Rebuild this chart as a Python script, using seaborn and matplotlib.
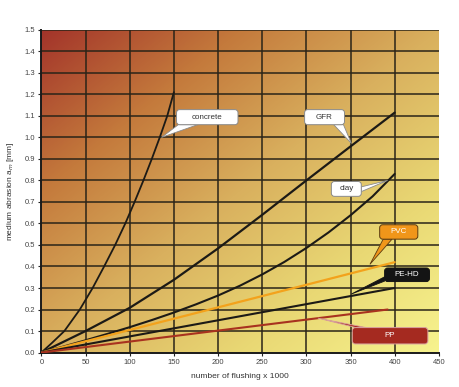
import numpy as np
import pandas as pd
import matplotlib
matplotlib.use("Agg")
import matplotlib.pyplot as plt
import seaborn as sns
from matplotlib.colors import LinearSegmentedColormap
from matplotlib.patches import FancyBboxPatch, Polygon

# data
concrete_x = [0, 12, 26, 43.5, 58, 71, 83.5, 95, 105.5, 115.5, 125, 134, 142.5, 150]
concrete_y = [0, 0.045, 0.1, 0.2, 0.3, 0.4, 0.5, 0.6, 0.7, 0.8, 0.9, 1.0, 1.1, 1.21]
gfr_x = [0, 50, 100, 150, 200, 250, 300, 350, 400]
gfr_y = [0, 0.10, 0.208, 0.338, 0.484, 0.640, 0.80, 0.958, 1.115]
clay_x = [0, 25, 50, 75, 100, 125, 150, 175, 200, 225, 250, 275, 300, 325, 350, 375, 400]
clay_y = [0, 0.028, 0.057, 0.087, 0.118, 0.151, 0.186, 0.224, 0.265, 0.311, 0.363,
          0.421, 0.486, 0.558, 0.638, 0.726, 0.83]
pvc_x = [0, 400]
pvc_y = [0, 0.42]
pehd_x = [0, 400]
pehd_y = [0, 0.30]
pp_x = [0, 392]
pp_y = [0, 0.20]

xticks = np.arange(0, 451, 50)
yticks = np.round(np.arange(0, 1.51, 0.1), 1)

sns.set_theme(style="white")
plt.rcParams['font.family'] = ['Liberation Sans', 'DejaVu Sans']

fig = plt.figure(figsize=(4.6, 3.87), dpi=100)
ax = fig.add_axes([0.090, 0.089, 0.864, 0.834])

# background gradient, dark red top-left to pale yellow bottom-right
cmap = LinearSegmentedColormap.from_list("bg", [
    (0.0, "#a3342a"), (0.25, "#c47a3c"), (0.5, "#d9b05e"),
    (0.75, "#e9d874"), (1.0, "#f7f38e")])
u = np.linspace(0, 1, 300)
uu, vv = np.meshgrid(u, u)
grad = (uu + vv) / 2
ax.imshow(grad, extent=[0, 450, 0, 1.5], origin="upper", cmap=cmap,
          aspect="auto", zorder=0, interpolation="bilinear")

series = [
    (concrete_x, concrete_y, "#1c1a16", 1.3),
    (gfr_x, gfr_y, "#1c1a16", 1.6),
    (clay_x, clay_y, "#1c1a16", 1.5),
    (pvc_x, pvc_y, "#f3a21c", 1.6),
    (pehd_x, pehd_y, "#1c1a16", 1.5),
    (pp_x, pp_y, "#a8321f", 1.5),
]
for xs, ys, c, lw in series:
    sns.lineplot(x=xs, y=ys, ax=ax, color=c, lw=lw, zorder=3, sort=False)

ax.set_xlim(0, 450)
ax.set_ylim(0, 1.5)
ax.set_xticks(xticks)
ax.set_yticks(yticks)
ax.set_xticklabels([str(t) for t in xticks])
ax.set_yticklabels([f"{t:.1f}" for t in yticks])
ax.tick_params(axis="both", labelsize=5.5, colors="#444444", length=2.5,
               width=0.8, pad=2, direction="out", bottom=True, left=True)
ax.tick_params(axis="both", color="#222222")

# grid: every 50 up to 400, every 0.1
for xv in xticks[1:-1]:
    ax.axvline(xv, color="#2a2418", lw=1.1, zorder=1)
for yv in yticks[1:]:
    ax.axhline(yv, color="#2a2418", lw=1.1, zorder=1)

for s in ["left", "bottom"]:
    ax.spines[s].set_color("#1a1a1a")
    ax.spines[s].set_linewidth(1.4)
ax.spines["top"].set_visible(False)
ax.spines["right"].set_visible(False)

ax.set_xlabel("number of flushing x 1000", fontsize=6, color="#333333", labelpad=5)
ax.set_ylabel("medium abrasion a$_m$ [mm]", fontsize=6, color="#333333", labelpad=6)

# callouts: text, box (x0, y0, x1, y1), wedge base points, tip, fill, edge, text colour
aspect = (1.5 / 323.0) / (450 / 398.0)
callouts = [
    ("concrete", (153, 1.059, 222.6, 1.129), [(155, 1.059), (177, 1.059)], (136, 1.0),
     "white", "#8a8a8a", "#333333"),
    ("GFR", (298, 1.059, 343.2, 1.129), [(331, 1.059), (342, 1.059)], (351, 0.972),
     "white", "#8a8a8a", "#333333"),
    ("clay", (328.3, 0.726, 362.2, 0.795), [(362.2, 0.77), (362.2, 0.748)], (392, 0.80),
     "white", "#8a8a8a", "#333333"),
    ("PVC", (383, 0.527, 426.2, 0.594), [(387, 0.527), (397, 0.527)], (372, 0.41),
     "#f0961a", "#5a3a10", "white"),
    ("PE-HD", (388.6, 0.330, 439.4, 0.393), [(388.6, 0.352), (388.6, 0.332)], (351, 0.272),
     "#141414", "#141414", "white"),
    ("PP", (352, 0.040, 437.6, 0.116), [(356, 0.116), (368, 0.116)], (313, 0.16),
     "#a52a20", "#d8a0a0", "white"),
]
for text, (x0, y0, x1, y1), base, tip, fc, ec, tc in callouts:
    wedge = Polygon([base[0], tip, base[1]], closed=True, fc=fc, ec=ec, lw=0.6, zorder=5)
    ax.add_patch(wedge)
    box = FancyBboxPatch((x0, y0), x1 - x0, y1 - y0,
                         boxstyle="round,pad=0,rounding_size=3.5",
                         mutation_aspect=aspect, fc=fc, ec=ec, lw=0.7, zorder=6)
    ax.add_patch(box)
    ax.text((x0 + x1) / 2, (y0 + y1) / 2, text, ha="center", va="center",
            fontsize=5.8, color=tc, zorder=7)

fig.savefig("out.png", dpi=100, facecolor="white")
